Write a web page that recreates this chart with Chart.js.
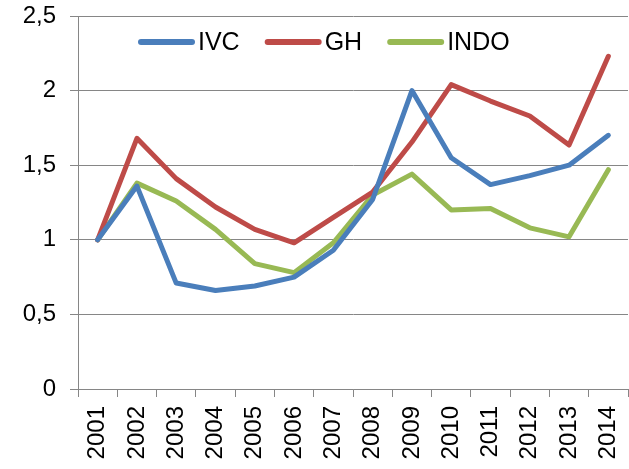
<!DOCTYPE html>
<html>
<head>
<meta charset="utf-8">
<script src="https://cdn.jsdelivr.net/npm/chart.js@4/dist/chart.umd.min.js"></script>
<style>
html,body{margin:0;padding:0;background:#fff;}
#wrap{width:629px;height:469px;}
</style>
</head>
<body>
<div id="wrap"><canvas id="c" width="629" height="469"></canvas></div>
<script>
const years = ['2001','2002','2003','2004','2005','2006','2007','2008','2009','2010','2011','2012','2013','2014'];
const ivc  = [1.00, 1.36, 0.71, 0.66, 0.69, 0.75, 0.93, 1.27, 2.00, 1.55, 1.37, 1.43, 1.50, 1.70];
const gh   = [1.00, 1.68, 1.41, 1.22, 1.07, 0.98, 1.15, 1.32, 1.655, 2.04, 1.93, 1.83, 1.635, 2.23];
const indo = [1.00, 1.38, 1.26, 1.07, 0.84, 0.78, 0.98, 1.30, 1.44, 1.20, 1.21, 1.08, 1.02, 1.47];
const seriesNames = ['IVC', 'GH', 'INDO'];
const yTicks = [0, 0.5, 1, 1.5, 2, 2.5];

const FONT = '"Liberation Sans", Arial, sans-serif';
const GRID = '#868686';

const legendPlugin = {
  id: 'insideLegend',
  afterDraw(chart) {
    const ctx = chart.ctx;
    const area = chart.chartArea;
    let x = area.left + 60;
    const y = area.top + 26;
    ctx.save();
    ctx.font = '25px ' + FONT;
    ctx.textBaseline = 'middle';
    chart.data.datasets.forEach(ds => {
      ctx.strokeStyle = ds.borderColor;
      ctx.lineWidth = 6;
      ctx.lineCap = 'round';
      ctx.beginPath();
      ctx.moveTo(x + 3, y);
      ctx.lineTo(x + 54, y);
      ctx.stroke();
      x += 60;
      ctx.fillStyle = '#000';
      ctx.fillText(ds.label, x, y + 1);
      x += ctx.measureText(ds.label).width + 25;
    });
    ctx.restore();
  }
};

new Chart(document.getElementById('c'), {
  type: 'line',
  data: {
    labels: years,
    datasets: [
      {label: seriesNames[0], data: ivc,  borderColor: '#4A7EBB'},
      {label: seriesNames[1], data: gh,   borderColor: '#BE4B48'},
      {label: seriesNames[2], data: indo, borderColor: '#98B954'}
    ].map(d => Object.assign(d, {
      borderWidth: 5, pointRadius: 0, tension: 0, fill: false,
      borderJoinStyle: 'round', borderCapStyle: 'round'
    }))
  },
  options: {
    responsive: false,
    animation: false,
    layout: {padding: {top: 16, right: 1, left: 0, bottom: 0}},
    plugins: {legend: {display: false}, tooltip: {enabled: false}},
    scales: {
      x: {
        type: 'category',
        offset: true,
        grid: {offset: true, drawOnChartArea: false, drawTicks: true, tickLength: 8, color: GRID, lineWidth: 1},
        border: {color: GRID, width: 1},
        ticks: {color: '#000', font: {family: FONT, size: 24}, maxRotation: 90, minRotation: 90, padding: 9, autoSkip: false},
        afterFit(s) { s.height = 80; s.paddingLeft = 0; s.paddingRight = 0; s.paddingTop = 0; s.paddingBottom = 0; }
      },
      y: {
        min: 0, max: 2.5,
        afterBuildTicks(s) { s.ticks = yTicks.map(v => ({value: v})); },
        grid: {color: GRID, lineWidth: 1, tickLength: 8, drawTicks: true},
        border: {color: GRID, width: 1},
        ticks: {color: '#000', font: {family: FONT, size: 24}, padding: 14,
          callback: v => String(v).replace('.', ',')},
        afterFit(s) { s.width = 78; s.paddingTop = 0; s.paddingBottom = 0; }
      }
    }
  },
  plugins: [legendPlugin]
});
</script>
</body>
</html>
